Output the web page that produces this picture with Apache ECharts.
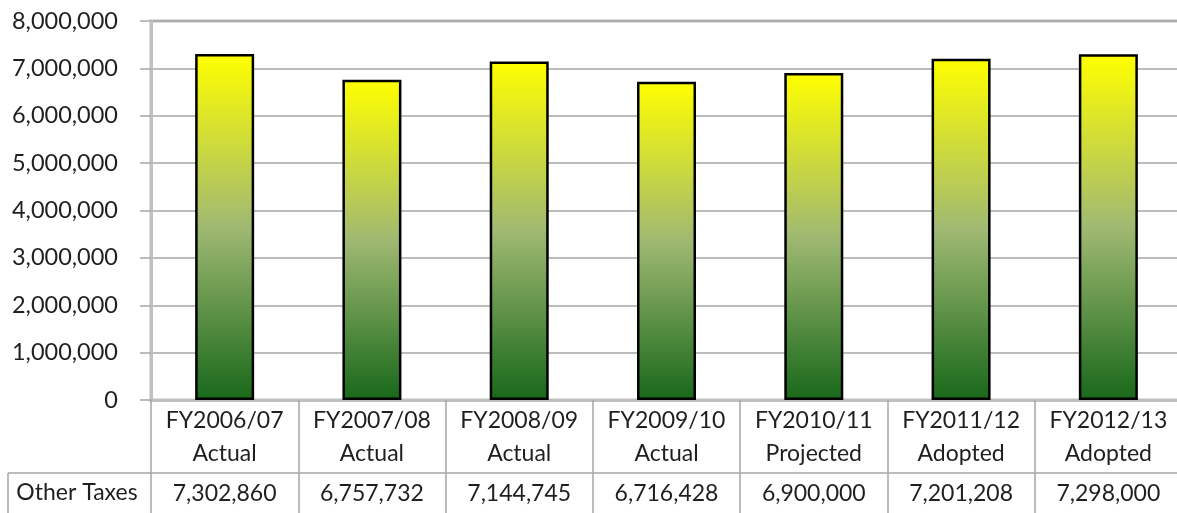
<!DOCTYPE html>
<html>
<head>
<meta charset="utf-8">
<script src="https://cdn.jsdelivr.net/npm/echarts@6/dist/echarts.min.js"></script>
<style>
  html, body { margin: 0; padding: 0; background: #ffffff; }
  #chart { width: 1177px; height: 513px; }
</style>
</head>
<body>
<div id="chart"></div>
<script>
// Fiscal years and budget status shown under each bar
const years = ['FY2006/07', 'FY2007/08', 'FY2008/09', 'FY2009/10', 'FY2010/11', 'FY2011/12', 'FY2012/13'];
const statuses = ['Actual', 'Actual', 'Actual', 'Actual', 'Projected', 'Adopted', 'Adopted'];
// Other Taxes revenue per year
const seriesName = 'Other Taxes';
const otherTaxes = [7302860, 6757732, 7144745, 6716428, 6900000, 7201208, 7298000];
// Value axis range
const yMin = 0;
const yMax = 8000000;
const yStep = 1000000;

const fmt = v => v.toLocaleString('en-US');
const categories = years.map((y, i) => y + '\n' + statuses[i]);
const tableValues = otherTaxes.map(fmt);

const FONT = 'Lato, "Open Sans", sans-serif';
const TEXT = '#1f1f1f';
const TABLE_LINE = '#a6a6a6';

const chart = echarts.init(document.getElementById('chart'), null, { renderer: 'canvas' });

chart.setOption({
  animation: false,
  backgroundColor: '#ffffff',
  grid: {
    left: 151, top: 21, right: -5, bottom: 113,
    outerBoundsMode: 'none',
    containLabel: false,
    show: true, borderColor: '#c0c0c0', borderWidth: 3, backgroundColor: 'transparent'
  },
  xAxis: [
    {
      type: 'category',
      data: categories,
      position: 'bottom',
      axisLine: { show: true, lineStyle: { color: '#c0c0c0', width: 3 } },
      axisTick: { show: true, interval: 0, alignWithLabel: false, length: 113, lineStyle: { color: TABLE_LINE, width: 1.5 } },
      axisLabel: { interval: 0, hideOverlap: false, color: TEXT, fontFamily: FONT, fontSize: 23, lineHeight: 33, margin: 4 },
      splitLine: { show: false }
    },
    {
      type: 'category',
      data: tableValues,
      position: 'bottom',
      offset: 73,
      axisLine: { show: true, lineStyle: { color: TABLE_LINE, width: 1.5 } },
      axisTick: { show: false },
      axisLabel: { interval: 0, hideOverlap: false, color: TEXT, fontFamily: FONT, fontSize: 23, lineHeight: 33, margin: 4 },
      splitLine: { show: false }
    }
  ],
  yAxis: {
    type: 'value',
    min: yMin, max: yMax, interval: yStep,
    axisLine: { show: true, lineStyle: { color: '#c0c0c0', width: 3 } },
    axisTick: { show: true, length: 11, lineStyle: { color: '#a6a6a6', width: 1.5 } },
    axisLabel: { color: TEXT, fontFamily: FONT, fontSize: 23.5, margin: 33, formatter: v => fmt(v) },
    splitLine: { show: true, lineStyle: { color: '#a6a6a6', width: 1.5 } }
  },
  series: [{
    name: seriesName,
    type: 'bar',
    data: otherTaxes,
    barWidth: 59,
    itemStyle: {
      borderColor: '#000000',
      borderWidth: 2.5,
      color: new echarts.graphic.LinearGradient(0, 0, 0, 1, [
        { offset: 0, color: '#ffff00' },
        { offset: 0.5, color: '#a0b972' },
        { offset: 1, color: '#18681a' }
      ])
    }
  }],
  graphic: [
    // left header cell of the data table row
    { type: 'line', shape: { x1: 8, y1: 473, x2: 151, y2: 473 }, style: { stroke: TABLE_LINE, lineWidth: 1.5 } },
    { type: 'line', shape: { x1: 8, y1: 473, x2: 8, y2: 513 }, style: { stroke: TABLE_LINE, lineWidth: 1.5 } },
    { type: 'text', x: 77, y: 493, style: { text: seriesName, fill: TEXT, font: '23px ' + FONT, textAlign: 'center', textVerticalAlign: 'middle' } }
  ]
});
</script>
</body>
</html>
